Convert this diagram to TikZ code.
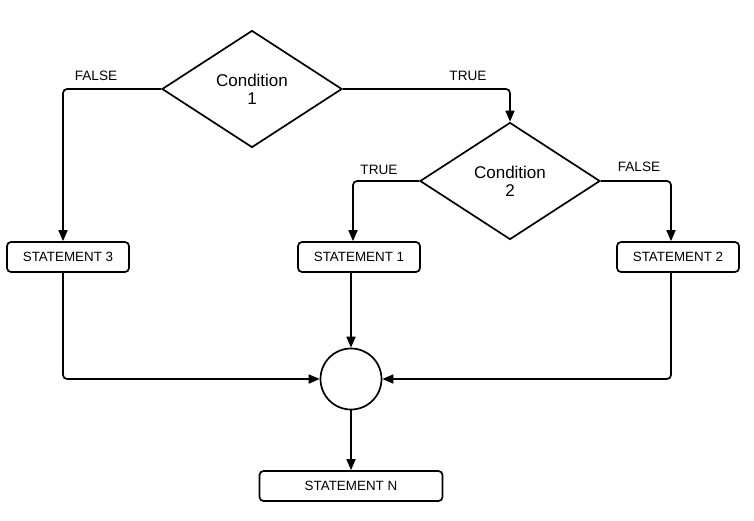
\documentclass[tikz,border=0pt]{standalone}
\usepackage{fontspec}
\setmainfont{Liberation Sans}
\usetikzlibrary{shapes.geometric,arrows.meta}
\begin{document}
\begin{tikzpicture}[x=1pt,y=-1pt,
  every node/.style={inner sep=0pt},
  stmt/.style={draw,line width=1.7pt,rounded corners=4pt,minimum height=30pt,font=\fontsize{13.4}{15}\selectfont},
  cond/.style={draw,diamond,line width=1.7pt,minimum width=180pt,minimum height=117pt,align=center,font=\fontsize{17}{18}\selectfont},
  lbl/.style={font=\fontsize{13.6}{15}\selectfont},
  conn/.style={line width=1.7pt,rounded corners=4pt,-{Triangle[length=11pt,width=9pt]}}]
\fill[white] (0,0) rectangle (754,520);
\useasboundingbox (0,0) rectangle (754,520);
\node[cond] (d1) at (252,89) {Condition\\1};
\node[cond] (d2) at (510,181) {Condition\\2};
\node[stmt,minimum width=122pt] (s3) at (68,257) {STATEMENT 3};
\node[stmt,minimum width=122pt] (s1) at (359,257) {STATEMENT 1};
\node[stmt,minimum width=122pt] (s2) at (678,257) {STATEMENT 2};
\node[draw,circle,line width=1.7pt,minimum size=61pt] (c) at (351,379) {};
\node[stmt,minimum width=183pt] (sn) at (351,486) {STATEMENT N};
\node[lbl] (f1) at (96,76) {FALSE};
\node[lbl] (t1) at (468,76) {TRUE};
\node[lbl] (t2) at (379,170) {TRUE};
\node[lbl] (f2) at (639,167) {FALSE};
\draw[conn] (d1.west) -| ([xshift=-5pt]s3.north);
\draw[conn] (d1.east) -| (d2.north);
\draw[conn] (d2.west) -| ([xshift=-6pt]s1.north);
\draw[conn] (d2.east) -| ([xshift=-7pt]s2.north);
\draw[conn] ([xshift=-5pt]s3.south) |- (c.west);
\draw[conn] (s1.south -| c.north) -- (c.north);
\draw[conn] ([xshift=-7pt]s2.south) |- (c.east);
\draw[conn] (c.south) -- (sn.north);
\end{tikzpicture}
\end{document}
